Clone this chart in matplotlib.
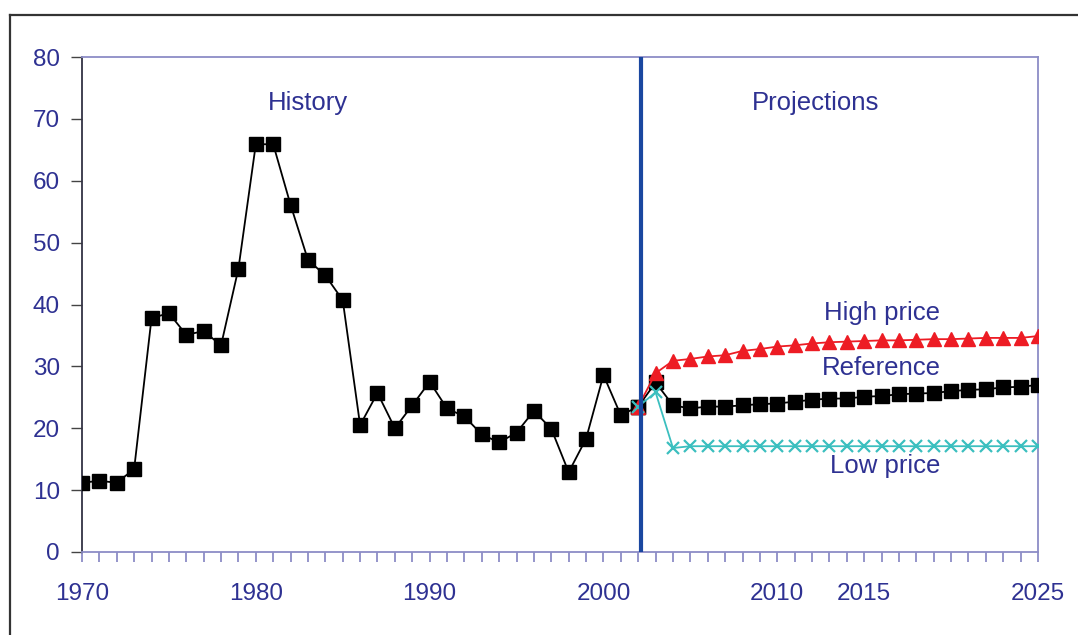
import matplotlib.pyplot as plt
from matplotlib.lines import Line2D

hist_years = list(range(1970, 2003))
hist_vals = [11.2, 11.5, 11.2, 13.4, 37.8, 38.6, 35.1, 35.7, 33.4, 45.8,
             65.9, 65.9, 56.1, 47.2, 44.7, 40.7, 20.5, 25.7, 20.0, 23.7,
             27.5, 23.2, 21.9, 19.0, 17.7, 19.3, 22.8, 19.9, 12.9, 18.3,
             28.6, 22.1, 23.5]

proj_years = list(range(2002, 2026))
ref_vals = [23.5, 27.4, 23.7, 23.2, 23.5, 23.5, 23.7, 23.9, 24.0, 24.3,
            24.6, 24.8, 24.8, 25.1, 25.2, 25.5, 25.6, 25.7, 26.0, 26.2,
            26.3, 26.6, 26.7, 27.0]
high_vals = [23.5, 28.9, 30.9, 31.2, 31.6, 31.8, 32.5, 32.8, 33.2, 33.4,
             33.7, 33.9, 34.0, 34.1, 34.2, 34.2, 34.3, 34.4, 34.4, 34.5,
             34.6, 34.6, 34.6, 34.9]
low_vals = [23.5, 25.8, 16.8, 17.1, 17.1, 17.1, 17.1, 17.1, 17.1, 17.1,
            17.1, 17.1, 17.1, 17.1, 17.1, 17.1, 17.1, 17.1, 17.1, 17.1,
            17.1, 17.1, 17.1, 17.1]

tick_years = [1970, 1980, 1990, 2000, 2010, 2015, 2025]
divider_year = 2002.15

navy = "#2e3192"
lav = "#8c8cc6"

plt.rcParams["font.family"] = ["Liberation Sans", "DejaVu Sans"]

fig = plt.figure(figsize=(10.78, 6.35), dpi=100)
ax = fig.add_axes([82 / 1078, 1 - 552 / 635, (1038 - 82) / 1078, (552 - 57) / 635])

# outer frame (only left and top visible)
fig.add_artist(Line2D([10 / 1078, 10 / 1078], [0, 1 - 15 / 635], color="#333333", lw=1.6))
fig.add_artist(Line2D([10 / 1078, 1], [1 - 15 / 635, 1 - 15 / 635], color="#333333", lw=1.6))

ax.plot(hist_years, hist_vals, color="black", lw=1.3, marker="s", ms=9.5, zorder=3)
ax.plot(proj_years, ref_vals, color="black", lw=1.3, marker="s", ms=9.5, zorder=3)
ax.plot(proj_years, high_vals, color="#ed1c24", lw=1.3, marker="^", ms=9.5, zorder=3)
ax.plot(proj_years, low_vals, color="#3bbfbf", lw=1.3, marker="x", ms=8, mew=1.6, zorder=3)

ax.axvline(divider_year, color="#1a47a0", lw=3, zorder=5)

ax.set_xlim(1970, 2025)
ax.set_ylim(0, 80)
ax.set_yticks(range(0, 81, 10))
ax.set_xticks(tick_years)
ax.set_xticks(range(1970, 2026), minor=True)

ax.tick_params(axis="y", direction="out", length=8, width=1, color="#444444",
               labelcolor=navy, labelsize=17.5, pad=8)
ax.tick_params(axis="x", which="both", direction="out", length=7, width=1.3,
               color=lav, labelcolor=navy, labelsize=17.5, pad=15)

for s in ["top", "right", "bottom"]:
    ax.spines[s].set_color(lav)
    ax.spines[s].set_linewidth(1.3)
ax.spines["left"].set_color("#333344")
ax.spines["left"].set_linewidth(1.3)

txt = dict(color=navy, fontsize=18.5, ha="center", va="center")
ax.text(1983.0, 72.5, "History", **txt)
ax.text(2012.2, 72.5, "Projections", **txt)
ax.text(2016.0, 38.6, "High price", **txt)
ax.text(2016.0, 29.7, "Reference", **txt)
ax.text(2016.2, 13.9, "Low price", **txt)

fig.savefig("out.png", dpi=100)
